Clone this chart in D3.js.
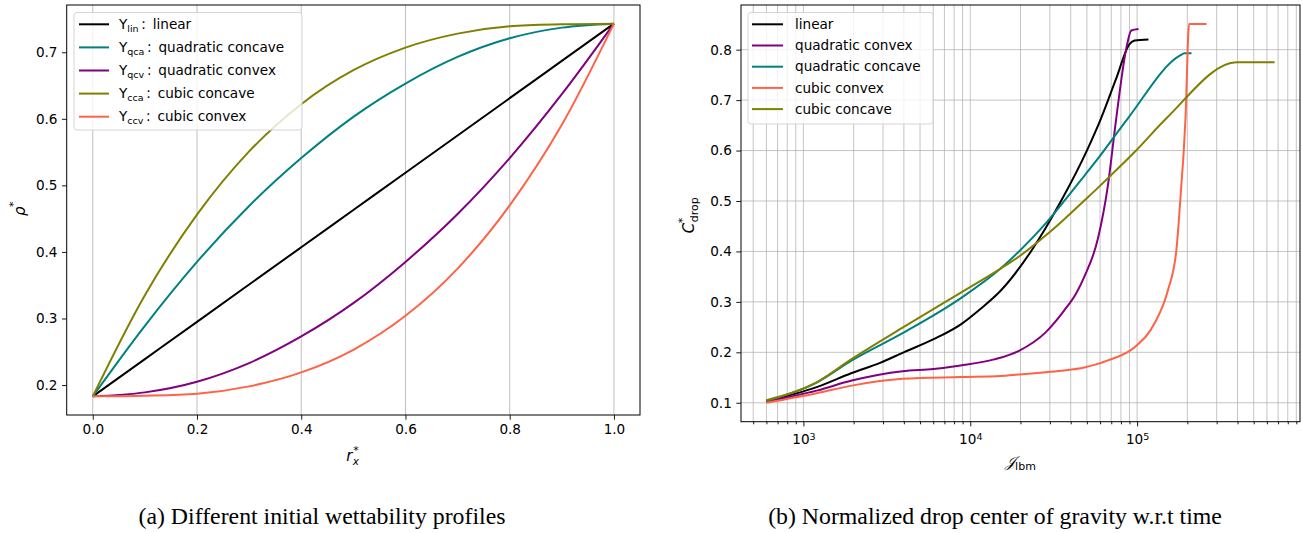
<!DOCTYPE html>
<html>
<head>
<meta charset="utf-8">
<script src="https://cdn.jsdelivr.net/npm/d3@7"></script>
<style>
body { margin: 0; background: #fff; }
svg text { font-family: "DejaVu Sans", sans-serif; fill: #000; }
.cap { font-family: "Liberation Serif", serif; font-size: 23.8px; }
</style>
</head>
<body>
<svg id="chart" width="1302" height="533"></svg>
<script>
// ---- (a) initial wettability profiles, read at r_x* = 0, 0.1 ... 1
var profileX     = [0, 0.1, 0.2, 0.3, 0.4, 0.5, 0.6, 0.7, 0.8, 0.9, 1.0];
var profLinear   = [0.183, 0.239, 0.295, 0.351, 0.407, 0.463, 0.519, 0.575, 0.631, 0.687, 0.743];
var profQuadCa   = [0.183, 0.289, 0.385, 0.469, 0.541, 0.603, 0.653, 0.693, 0.721, 0.737, 0.743];
var profQuadCv   = [0.183, 0.189, 0.205, 0.233, 0.273, 0.323, 0.385, 0.457, 0.541, 0.637, 0.743];
var profCubCa    = [0.183, 0.335, 0.456, 0.551, 0.622, 0.673, 0.707, 0.728, 0.739, 0.742, 0.743];
var profCubCv    = [0.183, 0.184, 0.187, 0.198, 0.219, 0.253, 0.304, 0.375, 0.470, 0.591, 0.743];
var profSubs     = ['lin', 'qca', 'qcv', 'cca', 'ccv'];
var profNames    = ['linear', 'quadratic concave', 'quadratic convex', 'cubic concave', 'cubic convex'];
var profColors   = ['#000000', '#008080', '#800080', '#808000', '#ff6347'];

// ---- (b) drop centre of gravity vs lbm time
var linT  = [600, 1200, 1950, 2880, 3930, 6030, 8740, 11500, 15200, 23100, 35000, 50000, 60800, 74800, 90100, 96600, 117000];
var linC  = [0.103, 0.131, 0.159, 0.179, 0.199, 0.226, 0.255, 0.286, 0.322, 0.400, 0.500, 0.600, 0.664, 0.742, 0.811, 0.818, 0.820];
var qcvT  = [600, 1200, 1950, 3930, 6030, 8740, 13900, 19600, 28400, 36600, 43000, 48300, 58200, 66800, 75000, 86100, 92300, 102000];
var qcvC  = [0.102, 0.124, 0.144, 0.1625, 0.167, 0.174, 0.186, 0.203, 0.240, 0.283, 0.316, 0.350, 0.425, 0.530, 0.664, 0.802, 0.838, 0.841];
var qcaT  = [600, 1200, 1950, 3930, 8740, 15200, 19600, 28400, 36600, 48300, 58200, 88100, 180000, 193000, 212000];
var qcaC  = [0.104, 0.140, 0.184, 0.238, 0.307, 0.366, 0.400, 0.456, 0.500, 0.550, 0.584, 0.664, 0.788, 0.793, 0.793];
var ccvT  = [600, 1200, 1950, 3930, 8740, 15200, 19600, 28400, 36600, 48300, 58200, 66800, 96600, 127000, 153000, 172000, 184600, 190600, 195000, 205000, 261000];
var ccvC  = [0.100, 0.119, 0.134, 0.1475, 0.151, 0.153, 0.156, 0.1605, 0.164, 0.170, 0.177, 0.184, 0.210, 0.257, 0.323, 0.403, 0.536, 0.602, 0.664, 0.851, 0.851];
var ccaT  = [600, 1200, 1950, 3930, 8740, 15200, 19600, 28400, 36600, 48300, 58200, 66800, 96600, 150000, 395000, 667000];
var ccaC  = [0.105, 0.1405, 0.187, 0.249, 0.318, 0.366, 0.390, 0.432, 0.464, 0.501, 0.526, 0.545, 0.597, 0.664, 0.775, 0.775];
var dropNames  = ['linear', 'quadratic convex', 'quadratic concave', 'cubic convex', 'cubic concave'];
var dropColors = ['#000000', '#800080', '#008080', '#ff6347', '#808000'];

var yTicksA = [0.2, 0.3, 0.4, 0.5, 0.6, 0.7];
var xTicksA = [0, 0.2, 0.4, 0.6, 0.8, 1.0];
var yTicksB = [0.1, 0.2, 0.3, 0.4, 0.5, 0.6, 0.7, 0.8];
var xMajorB = [1e3, 1e4, 1e5];

var FS = 13.6;
var svg = d3.select('#chart');

function pad(ext) {
    var d = (ext[1] - ext[0]) * 0.05;
    return [ext[0] - d, ext[1] + d];
}

function styleAxis(g) {
    g.selectAll('text').style('font-size', FS + 'px');
    g.selectAll('line').attr('stroke', '#000').attr('stroke-width', 0.9);
    g.select('.domain').remove();
}

function frame(b) {
    svg.append('rect')
        .attr('x', b.left).attr('y', b.top)
        .attr('width', b.right - b.left).attr('height', b.bottom - b.top)
        .attr('fill', 'none').attr('stroke', '#000').attr('stroke-width', 1);
}

function legendBox(x0, y0, w, h) {
    svg.append('rect')
        .attr('x', x0).attr('y', y0).attr('width', w).attr('height', h)
        .attr('rx', 3).attr('fill', '#fff').attr('fill-opacity', 0.8)
        .attr('stroke', '#d6d6d6').attr('stroke-width', 1);
}

// ---------------- panel (a)
function drawProfiles() {
    var b = {left: 66.7, right: 640, top: 5, bottom: 415};
    var allY = [].concat(profLinear, profQuadCa, profQuadCv, profCubCa, profCubCv);

    var x = d3.scaleLinear().domain(pad(d3.extent(profileX))).range([b.left, b.right]);
    var y = d3.scaleLinear().domain(pad(d3.extent(allY))).range([b.bottom, b.top]);

    // vertical grid only
    svg.append('g').selectAll('line')
        .data(xTicksA).enter().append('line')
        .attr('x1', d => x(d)).attr('x2', d => x(d))
        .attr('y1', b.top).attr('y2', b.bottom)
        .attr('stroke', '#b0b0b0').attr('stroke-opacity', 0.8).attr('stroke-width', 1);

    var series = [profLinear, profQuadCa, profQuadCv, profCubCa, profCubCv];
    var line = d3.line()
        .x((d, i) => x(profileX[i]))
        .y(d => y(d))
        .curve(d3.curveMonotoneX);

    svg.append('g').selectAll('path')
        .data(series).enter().append('path')
        .attr('d', line)
        .attr('fill', 'none')
        .attr('stroke', (d, i) => profColors[i])
        .attr('stroke-width', 2);

    var xAxis = d3.axisBottom(x).tickValues(xTicksA).tickFormat(d3.format('.1f'))
        .tickSizeInner(4.7).tickSizeOuter(0).tickPadding(4.5);
    svg.append('g').attr('transform', 'translate(0,' + b.bottom + ')').call(xAxis).call(styleAxis);

    var yAxis = d3.axisLeft(y).tickValues(yTicksA).tickFormat(d3.format('.1f'))
        .tickSizeInner(4.7).tickSizeOuter(0).tickPadding(4.5);
    svg.append('g').attr('transform', 'translate(' + b.left + ',0)').call(yAxis).call(styleAxis);

    frame(b);

    // x label r_x^*
    var xl = svg.append('g').attr('transform', 'translate(' + ((b.left + b.right) / 2 - 7) + ',461)');
    xl.append('text').attr('font-style', 'italic').style('font-size', '15px').text('r');
    xl.append('text').attr('x', 7).attr('y', -7).style('font-size', '11px').text('*');
    xl.append('text').attr('x', 6.5).attr('y', 4).attr('font-style', 'italic').style('font-size', '10.5px').text('x');

    // y label rho^*
    var yl = svg.append('g').attr('transform', 'translate(25,' + ((b.top + b.bottom) / 2 + 6) + ') rotate(-90)');
    yl.append('text').attr('font-style', 'italic').style('font-size', '15px').text('ρ');
    yl.append('text').attr('x', 9).attr('y', -8).style('font-size', '11px').text('*');

    // legend
    legendBox(74, 12.5, 228, 117.5);
    var rows = svg.append('g').selectAll('g')
        .data(profNames).enter().append('g')
        .attr('transform', (d, i) => 'translate(79,' + (24.3 + i * 23.1) + ')');
    rows.append('line').attr('x1', 0).attr('x2', 30)
        .attr('stroke', (d, i) => profColors[i]).attr('stroke-width', 2);
    var t = rows.append('text').attr('x', 40).attr('dy', '0.35em').style('font-size', FS + 'px');
    t.append('tspan').text('Y');
    t.append('tspan').attr('dy', 3).style('font-size', '9.5px').text((d, i) => profSubs[i]);
    t.append('tspan').attr('dy', -3).text((d, i) => '\u2009:\u2002' + d);
}

// ---------------- panel (b)
function drawDrop() {
    var b = {left: 741, right: 1300, top: 5, bottom: 421.7};
    var allT = [].concat(linT, qcvT, qcaT, ccvT, ccaT);
    var allC = [].concat(linC, qcvC, qcaC, ccvC, ccaC);

    var lt = pad(d3.extent(allT, d => Math.log10(d)));
    var x = d3.scaleLog().domain([Math.pow(10, lt[0]), Math.pow(10, lt[1])]).range([b.left, b.right]);
    var y = d3.scaleLinear().domain(pad(d3.extent(allC))).range([b.bottom, b.top]);

    var minor = x.ticks().filter(d => xMajorB.indexOf(d) < 0);

    var grid = svg.append('g').attr('stroke', '#b0b0b0').attr('stroke-opacity', 0.75).attr('stroke-width', 1);
    grid.selectAll('.gx').data(minor.concat(xMajorB)).enter().append('line')
        .attr('x1', d => x(d)).attr('x2', d => x(d))
        .attr('y1', b.top).attr('y2', b.bottom);
    grid.selectAll('.gy').data(yTicksB).enter().append('line')
        .attr('x1', b.left).attr('x2', b.right)
        .attr('y1', d => y(d)).attr('y2', d => y(d));

    var series = [[linT, linC], [qcvT, qcvC], [qcaT, qcaC], [ccvT, ccvC], [ccaT, ccaC]];
    var line = d3.line()
        .x(d => x(d[0]))
        .y(d => y(d[1]))
        .curve(d3.curveMonotoneX);

    svg.append('g').selectAll('path')
        .data(series).enter().append('path')
        .attr('d', s => line(s[0].map((t, i) => [t, s[1][i]])))
        .attr('fill', 'none')
        .attr('stroke', (d, i) => dropColors[i])
        .attr('stroke-width', 2);

    var xAxis = d3.axisBottom(x).tickValues(xMajorB).tickFormat(d => Math.round(Math.log10(d)))
        .tickSizeInner(4.7).tickSizeOuter(0).tickPadding(4.5);
    var gx = svg.append('g').attr('transform', 'translate(0,' + b.bottom + ')').call(xAxis).call(styleAxis);
    gx.selectAll('text').each(function(d) {
        var el = d3.select(this);
        var p = el.text();
        el.text('').attr('dy', '1.0em');
        el.append('tspan').text('10');
        el.append('tspan').attr('dy', '-0.45em').style('font-size', '9.5px').text(p);
    });

    var xMinor = d3.axisBottom(x).tickValues(minor).tickFormat('').tickSizeInner(2.6).tickSizeOuter(0);
    svg.append('g').attr('transform', 'translate(0,' + b.bottom + ')').call(xMinor).call(styleAxis);

    var yAxis = d3.axisLeft(y).tickValues(yTicksB).tickFormat(d3.format('.1f'))
        .tickSizeInner(4.7).tickSizeOuter(0).tickPadding(4.5);
    svg.append('g').attr('transform', 'translate(' + b.left + ',0)').call(yAxis).call(styleAxis);

    frame(b);

    // x label  J_lbm
    var xl = svg.append('text').attr('x', (b.left + b.right) / 2).attr('y', 467)
        .attr('text-anchor', 'middle').style('font-size', '15px');
    xl.append('tspan').attr('font-style', 'italic').style('font-family', '"DejaVu Serif", serif').text('\uD835\uDCA5');
    xl.append('tspan').attr('dy', 3).style('font-size', '11px').text('lbm');

    // y label C*_drop
    var yl = svg.append('g').attr('transform', 'translate(694,' + ((b.top + b.bottom) / 2 + 20) + ') rotate(-90)');
    yl.append('text').attr('font-style', 'italic').style('font-size', '15px').text('C');
    yl.append('text').attr('x', 10).attr('y', -8).style('font-size', '11px').text('*');
    yl.append('text').attr('x', 11).attr('y', 4).style('font-size', '11px').text('drop');

    // legend
    legendBox(748, 12.5, 185, 111.5);
    var rows = svg.append('g').selectAll('g')
        .data(dropNames).enter().append('g')
        .attr('transform', (d, i) => 'translate(752,' + (24.3 + i * 21.2) + ')');
    rows.append('line').attr('x1', 0).attr('x2', 31)
        .attr('stroke', (d, i) => dropColors[i]).attr('stroke-width', 2);
    rows.append('text').attr('x', 43).attr('dy', '0.35em').style('font-size', FS + 'px').text(d => d);
}

drawProfiles();
drawDrop();

svg.append('text').attr('class', 'cap').attr('x', 322).attr('y', 524).attr('text-anchor', 'middle')
    .text('(a) Different initial wettability profiles');
svg.append('text').attr('class', 'cap').attr('x', 995).attr('y', 524).attr('text-anchor', 'middle')
    .text('(b) Normalized drop center of gravity w.r.t time');
</script>
</body>
</html>
